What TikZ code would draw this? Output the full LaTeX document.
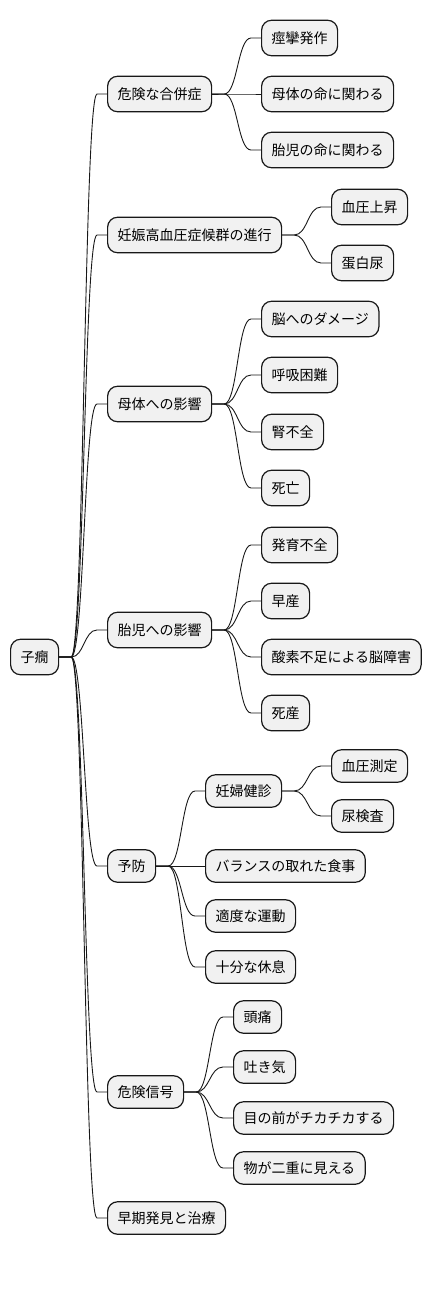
\documentclass[tikz,border=0pt]{standalone}
\usepackage{fontspec}
\setmainfont{Noto Sans CJK JP}
\usetikzlibrary{calc}
\definecolor{nodefill}{HTML}{F1F1F1}
\definecolor{nodeline}{HTML}{181818}
\tikzset{
  mm/.style={draw=nodeline, fill=nodefill, line width=1.2pt, rounded corners=10pt,
    inner xsep=10pt, inner ysep=0pt, minimum height=35.5pt, anchor=west,
    font=\fontsize{14}{16}\selectfont},
  mms/.style={mm, minimum height=32.5pt},
  edge/.style={draw=nodeline, line width=0.9pt}
}
\newcommand\mmlink[2]{\path[edge] let \p1=(#1.east), \p2=(#2.west), \n1={(\x1+\x2)/2+1pt} in
  (\p1) -- ++(12pt,0) .. controls (\n1,\y1) and (\n1,\y2) .. ({\x2-10pt},\y2) -- (\p2);}
\begin{document}
\begin{tikzpicture}[x=1pt,y=-1pt]
\useasboundingbox (0,0) rectangle (432,1315);
\node[mm] (root) at (10,657) {子癇};
\node[mm] (a) at (107,94) {危険な合併症};
\node[mm] (a1) at (261,38) {痙攣発作};
\node[mm] (a2) at (261,94) {母体の命に関わる};
\node[mm] (a3) at (261,150) {胎児の命に関わる};
\node[mm] (b) at (107,235) {妊娠高血圧症候群の進行};
\node[mm] (b1) at (331,207) {血圧上昇};
\node[mm] (b2) at (331,263) {蛋白尿};
\node[mm] (c) at (107,404) {母体への影響};
\node[mm] (c1) at (261,319) {脳へのダメージ};
\node[mm] (c2) at (261,375) {呼吸困難};
\node[mm] (c3) at (261,432) {腎不全};
\node[mm] (c4) at (261,488) {死亡};
\node[mm] (d) at (107,630) {胎児への影響};
\node[mm] (d1) at (261,545) {発育不全};
\node[mm] (d2) at (261,601) {早産};
\node[mm] (d3) at (261,657) {酸素不足による脳障害};
\node[mm] (d4) at (261,713) {死産};
\node[mms] (e) at (107,866) {予防};
\node[mms] (e1) at (205,791) {妊婦健診};
\node[mms] (e11) at (331,766) {血圧測定};
\node[mms] (e12) at (331,816) {尿検査};
\node[mms] (e2) at (205,866) {バランスの取れた食事};
\node[mms] (e3) at (205,916) {適度な運動};
\node[mms] (e4) at (205,967) {十分な休息};
\node[mms] (f) at (107,1092) {危険信号};
\node[mms] (f1) at (233,1017) {頭痛};
\node[mms] (f2) at (233,1067) {吐き気};
\node[mms] (f3) at (233,1118) {目の前がチカチカする};
\node[mms] (f4) at (233,1168) {物が二重に見える};
\node[mms] (g) at (107,1218) {早期発見と治療};
\foreach \c in {a,b,c,d,e,f,g} {\mmlink{root}{\c}}
\foreach \c in {a1,a2,a3} {\mmlink{a}{\c}}
\foreach \c in {b1,b2} {\mmlink{b}{\c}}
\foreach \c in {c1,c2,c3,c4} {\mmlink{c}{\c}}
\foreach \c in {d1,d2,d3,d4} {\mmlink{d}{\c}}
\foreach \c in {e1,e2,e3,e4} {\mmlink{e}{\c}}
\foreach \c in {e11,e12} {\mmlink{e1}{\c}}
\foreach \c in {f1,f2,f3,f4} {\mmlink{f}{\c}}
\end{tikzpicture}
\end{document}
